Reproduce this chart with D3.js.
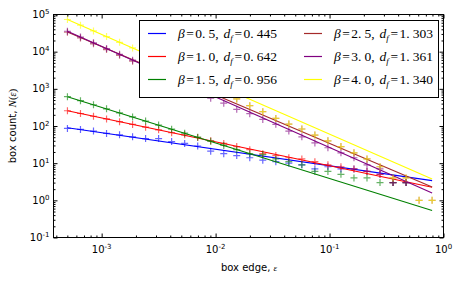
<!DOCTYPE html>
<html>
<head>
<meta charset="utf-8">
<script src="https://cdn.jsdelivr.net/npm/d3@7"></script>
<style>
    body { margin: 0; background: #fff; }
    svg text { font-family: "DejaVu Sans", sans-serif; fill: #000; }
    .math { font-family: "Liberation Serif", "DejaVu Serif", serif; }
</style>
</head>
<body>
<svg id="chart" width="460" height="282"></svg>
<script>
// box edge values (shared by every beta)
const epsilon = [0.000501, 0.000652, 0.000848, 0.001104, 0.001436, 0.001868, 0.002430,
    0.003162, 0.004113, 0.005352, 0.006963, 0.009058, 0.01179, 0.01533, 0.01995,
    0.02595, 0.03377, 0.04393, 0.05715, 0.07436, 0.09676, 0.1259, 0.1638, 0.2131,
    0.2772, 0.3607, 0.4693, 0.6105, 0.7943];

// box counts N(eps), one array per beta (null = no count)
const countBeta05 = [86, 81, 73, 63, 58, 51, 46, 46, 38, 34, 29, 21, 18, 16, 14, 12, 11, 10,
    9, 7, 8, 7, 7, 6, 5, 3, 3, null, null];
const countBeta10 = [257, 217, 183, 155, 131, 110, 93, 79, 66, 58, 49, 40, 34, 28, 23, 18, 16,
    14, 13, 11, 9, 8, 7, 6, 5, 3, 3, null, null];
const countBeta15 = [616, 480, 373, 290, 225, 175, 136, 106, 82, 64, 50, 39, 30, 23, 18, 17, 13,
    11, 9, 6, 6, 5, 4, 4, 3, 3, 3, null, null];
const countBeta25 = [33300, 23300, 16300, 11400, 7960, 5560, 3890, 2930, 2210, 1660, 1250, 945,
    710, 535, 352, 243, 160, 113, 83, 57, 40, 28, 19, 13, 8, 4, 4, 1, 1];
const countBeta30 = [35480, 24800, 17340, 12120, 8470, 5920, 4140, 2890, 2020, 1410, 988, 560,
    410, 281, 215, 150, 111, 73, 51, 35, 26, 19, 14, 9, 7, 3, 3, null, null];
const countBeta40 = [73280, 51520, 36220, 25460, 17880, 12570, 8830, 6200, 4360, 3070, 2150, 1510,
    1060, 535, 352, 243, 160, 113, 83, 57, 40, 28, 19, 13, 8, 4, 4, 1, 1];

const betas = ["0.5", "1.0", "1.5", "2.5", "3.0", "4.0"];
const fractalDim = ["0.445", "0.642", "0.956", "1.303", "1.361", "1.340"];
// fitted N at eps = 1, the line is N = A * eps^(-df)
const fitPrefactor = [3.06, 1.95, 0.43, 1.70, 1.15, 2.77];
const counts = [countBeta05, countBeta10, countBeta15, countBeta25, countBeta30, countBeta40];
const colors = ["#0000ff", "#ff0000", "#008000", "#a52a2a", "#800080", "#ffff00"];

const xTicks = [1e-3, 1e-2, 1e-1, 1];
const xTickExp = ["-3", "-2", "-1", "0"];
const yTicks = [1e-1, 1, 1e1, 1e2, 1e3, 1e4, 1e5];
const yTickExp = ["-1", "0", "1", "2", "3", "4", "5"];

const svg = d3.select("#chart");
const pLeft = 53.5, pRight = 443.5, pTop = 14.5, pBottom = 237.5;

const x = d3.scaleLog().domain([3.78e-4, 1]).range([pLeft, pRight]);
const y = d3.scaleLog().domain([0.1, 1e5]).range([pBottom, pTop]);

function minorTicks(domain) {
    const out = [];
    for (let e = -5; e <= 5; e++) {
        for (let k = 2; k <= 9; k++) {
            const v = k * Math.pow(10, e);
            if (v > domain[0] && v < domain[1]) out.push(v);
        }
    }
    return out;
}

svg.append("clipPath").attr("id", "clip")
    .append("rect").attr("x", pLeft).attr("y", pTop)
    .attr("width", pRight - pLeft).attr("height", pBottom - pTop);
const plot = svg.append("g").attr("clip-path", "url(#clip)");

// data: crosses then fit line for each beta
counts.forEach((arr, s) => {
    const pts = epsilon.map((e, i) => [e, arr[i]]).filter(d => d[1] != null);
    plot.append("g").selectAll("path").data(pts).join("path")
        .attr("transform", d => `translate(${x(d[0])},${y(d[1])})`)
        .attr("d", "M-3.5,0H3.5M0,-3.5V3.5")
        .attr("stroke", colors[s])
        .attr("stroke-width", 1.2)
        .attr("stroke-opacity", 0.6)
        .attr("fill", "none");

    const ends = [epsilon[0], epsilon[epsilon.length - 1]];
    const fit = ends.map(e => [e, fitPrefactor[s] * Math.pow(e, -parseFloat(fractalDim[s]))]);
    plot.append("path")
        .attr("d", d3.line().x(d => x(d[0])).y(d => y(d[1]))(fit))
        .attr("stroke", colors[s])
        .attr("stroke-width", 1.1)
        .attr("fill", "none");
});

// ticks, pointing inward on all four sides
function tickAxes(axisFn, scale, pos, major, minor) {
    svg.append("g").attr("transform", pos)
        .call(axisFn(scale).tickValues(major).tickSizeInner(-4).tickSizeOuter(0).tickFormat(""))
        .call(g => g.select(".domain").remove());
    svg.append("g").attr("transform", pos)
        .call(axisFn(scale).tickValues(minor).tickSizeInner(-2).tickSizeOuter(0).tickFormat(""))
        .call(g => g.select(".domain").remove());
}
const xMinor = minorTicks(x.domain());
const yMinor = minorTicks(y.domain());
tickAxes(d3.axisBottom, x, `translate(0,${pBottom})`, xTicks, xMinor);
tickAxes(d3.axisTop, x, `translate(0,${pTop})`, xTicks, xMinor);
tickAxes(d3.axisLeft, y, `translate(${pLeft},0)`, yTicks, yMinor);
tickAxes(d3.axisRight, y, `translate(${pRight},0)`, yTicks, yMinor);

svg.append("rect")
    .attr("x", pLeft).attr("y", pTop)
    .attr("width", pRight - pLeft).attr("height", pBottom - pTop)
    .attr("fill", "none").attr("stroke", "#000").attr("stroke-width", 1);

// tick labels 10^n
xTicks.forEach((t, i) => {
    const txt = svg.append("text")
        .attr("x", x(t)).attr("y", 253)
        .attr("text-anchor", "middle")
        .attr("font-size", 10);
    txt.append("tspan").text("10");
    txt.append("tspan").attr("dy", -4).attr("font-size", 7).text(xTickExp[i]);
});
yTicks.forEach((t, i) => {
    const txt = svg.append("text")
        .attr("x", pLeft - 4).attr("y", y(t) + 3.5)
        .attr("text-anchor", "end")
        .attr("font-size", 10);
    txt.append("tspan").text("10");
    txt.append("tspan").attr("dy", -4).attr("font-size", 7).text(yTickExp[i]);
});

// axis titles
const xLabel = svg.append("text")
    .attr("x", 249).attr("y", 271)
    .attr("text-anchor", "middle").attr("font-size", 10);
xLabel.append("tspan").text("box edge, ");
xLabel.append("tspan").attr("class", "math").attr("font-style", "italic").attr("font-size", 9).text("ε");

const yLabel = svg.append("text")
    .attr("transform", "translate(16,126) rotate(-90)")
    .attr("text-anchor", "middle").attr("font-size", 10);
yLabel.append("tspan").text("box count, ");
yLabel.append("tspan").attr("class", "math").attr("font-style", "italic").attr("font-size", 11).text("N");
yLabel.append("tspan").attr("class", "math").attr("font-size", 11).text("(");
yLabel.append("tspan").attr("class", "math").attr("font-style", "italic").attr("font-size", 10).text("ε");
yLabel.append("tspan").attr("class", "math").attr("font-size", 11).text(")");

// legend
const legend = svg.append("g");
legend.append("rect")
    .attr("x", 139.5).attr("y", 20.5)
    .attr("width", 299).attr("height", 77)
    .attr("fill", "#fff").attr("stroke", "#000").attr("stroke-width", 1);

const colX = [148, 304];
const rowY = [33.5, 56.5, 79.5];
betas.forEach((b, i) => {
    const cx = colX[Math.floor(i / 3)];
    const cy = rowY[i % 3];
    legend.append("line")
        .attr("x1", cx).attr("x2", cx + 18)
        .attr("y1", cy).attr("y2", cy)
        .attr("stroke", colors[i]).attr("stroke-width", 1.2);
    const t = legend.append("text")
        .attr("class", "math")
        .attr("x", cx + 30).attr("y", cy + 4.5)
        .attr("font-size", 13.5);
    t.append("tspan").attr("font-style", "italic").text("β");
    t.append("tspan").attr("dx", 1.5).text("=");
    t.append("tspan").attr("dx", 1.5).text(b.split(".")[0] + ".");
    t.append("tspan").attr("dx", 3).text(b.split(".")[1] + ",");
    t.append("tspan").attr("dx", 5).attr("font-style", "italic").text("d");
    t.append("tspan").attr("font-style", "italic").attr("font-size", 9).attr("dy", 3).text("f");
    t.append("tspan").attr("dy", -3).attr("dx", 1.5).text("=");
    t.append("tspan").attr("dx", 1.5).text(fractalDim[i].split(".")[0] + ".");
    t.append("tspan").attr("dx", 3).text(fractalDim[i].split(".")[1]);
});
</script>
</body>
</html>
